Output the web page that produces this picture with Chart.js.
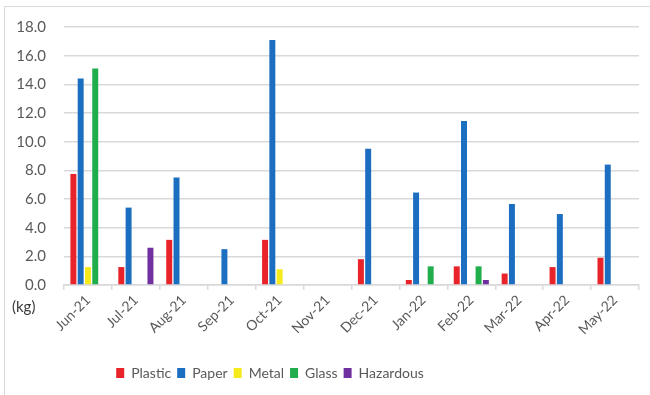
<!DOCTYPE html>
<html lang="en">
<head>
    <meta charset="UTF-8">
    <title>Waste Collected per Month</title>
    <script src="https://cdn.jsdelivr.net/npm/chart.js"></script>
    <style>
        body {
            margin: 0;
            padding: 0;
            background-color: #fff;
        }
        .wrap {
            position: relative;
            width: 650px;
            height: 395px;
            overflow: hidden;
        }
        .frame {
            position: absolute;
            left: 4px;
            top: 6px;
            width: 700px;
            height: 450px;
            border-left: 1px solid #dadada;
            border-top: 1px solid #dadada;
        }
        canvas {
            position: absolute;
            left: 0;
            top: 0;
        }
    </style>
</head>
<body>
    <div class="wrap">
        <div class="frame"></div>
        <canvas id="wasteChart" width="650" height="395"></canvas>
    </div>

    <script>
        const months = ["Jun-21", "Jul-21", "Aug-21", "Sep-21", "Oct-21", "Nov-21",
                        "Dec-21", "Jan-22", "Feb-22", "Mar-22", "Apr-22", "May-22"];

        // values in kg
        const plastic   = [7.75, 1.25, 3.15, 0, 3.15, 0, 1.8, 0.35, 1.3, 0.8, 1.25, 1.9];
        const paper     = [14.4, 5.4, 7.5, 2.5, 17.1, 0, 9.5, 6.45, 11.45, 5.65, 4.95, 8.4];
        const metal     = [1.25, 0, 0, 0, 1.1, 0, 0, 0, 0, 0, 0, 0];
        const glass     = [15.1, 0, 0, 0, 0, 0, 0, 1.3, 1.3, 0, 0, 0];
        const hazardous = [0, 2.6, 0, 0, 0, 0, 0, 0, 0.35, 0, 0, 0];

        const yTicks = [0, 2, 4, 6, 8, 10, 12, 14, 16, 18];

        const textColor = '#595959';
        const gridColor = '#d9d9d9';

        // small "(kg)" unit label under the y axis
        const unitLabel = {
            id: 'unitLabel',
            afterDraw(chart) {
                const ctx = chart.ctx;
                ctx.save();
                ctx.font = '15px Lato, sans-serif';
                ctx.fillStyle = '#3a3a3a';
                ctx.textBaseline = 'middle';
                ctx.fillText('(kg)', 12, 307);
                ctx.restore();
            }
        };

        // legend sits left of centre in the original
        const shiftLegend = {
            id: 'shiftLegend',
            afterLayout(chart) {
                chart.legend.left = 0;
                chart.legend.right = 540;
            }
        };

        function makeSet(label, data, color) {
            return {
                label: label,
                data: data,
                backgroundColor: color,
                borderWidth: 0,
                categoryPercentage: 0.76,
                barPercentage: 0.82
            };
        }

        new Chart(document.getElementById('wasteChart'), {
            type: 'bar',
            data: {
                labels: months,
                datasets: [
                    makeSet('Plastic', plastic, '#e8232a'),
                    makeSet('Paper', paper, '#1b6ec0'),
                    makeSet('Metal', metal, '#f5ea1c'),
                    makeSet('Glass', glass, '#20ad4b'),
                    makeSet('Hazardous', hazardous, '#7030a0')
                ]
            },
            options: {
                responsive: false,
                animation: false,
                layout: {
                    padding: { top: 27, right: 11, left: 0, bottom: 5 }
                },
                plugins: {
                    tooltip: { enabled: false },
                    legend: {
                        position: 'bottom',
                        labels: {
                            color: textColor,
                            font: { family: 'Lato, sans-serif', size: 14 },
                            boxWidth: 8,
                            boxHeight: 10,
                            padding: 6
                        }
                    }
                },
                scales: {
                    x: {
                        grid: {
                            offset: true,
                            drawOnChartArea: false,
                            drawTicks: true,
                            tickLength: 5,
                            color: gridColor,
                            lineWidth: 1.5
                        },
                        border: { display: true, color: gridColor, width: 1.5 },
                        ticks: {
                            color: textColor,
                            font: { family: 'Lato, sans-serif', size: 14 },
                            maxRotation: 45,
                            minRotation: 45,
                            padding: 2
                        },
                        afterFit(scale) {
                            scale.height = 75;
                        }
                    },
                    y: {
                        min: 0,
                        max: 18,
                        afterBuildTicks(scale) {
                            scale.ticks = yTicks.map(v => ({ value: v }));
                        },
                        grid: {
                            drawTicks: false,
                            color: gridColor,
                            lineWidth: 1.5
                        },
                        border: { display: false },
                        ticks: {
                            color: textColor,
                            font: { family: 'Lato, sans-serif', size: 15 },
                            padding: 18,
                            callback: v => v.toFixed(1)
                        },
                        afterFit(scale) {
                            scale.width = 64;
                        }
                    }
                }
            },
            plugins: [unitLabel, shiftLegend]
        });
    </script>
</body>
</html>
